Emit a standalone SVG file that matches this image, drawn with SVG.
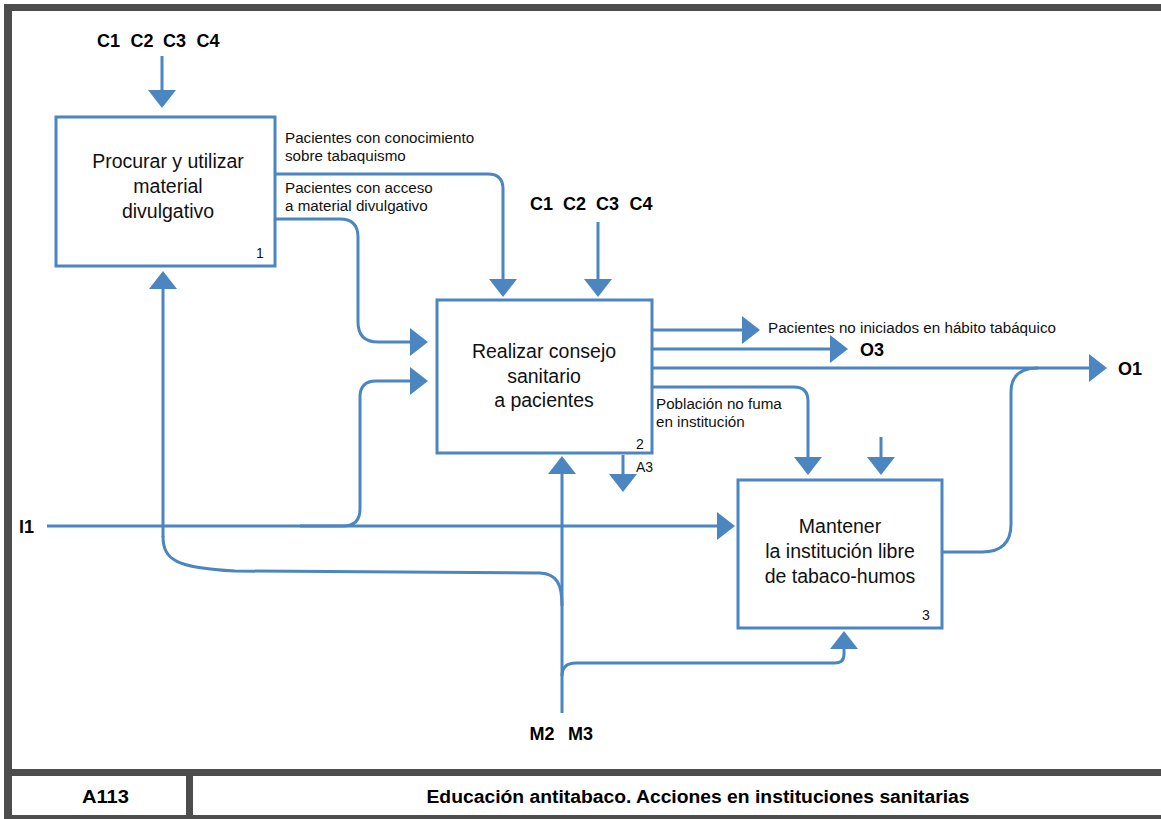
<svg xmlns="http://www.w3.org/2000/svg" width="1161" height="819" viewBox="0 0 1161 819">
<style>
.frame{fill:#4d4d4d}
.box{fill:#fff;stroke:#4b86c1;stroke-width:3}
.ln{fill:none;stroke:#4b86c1;stroke-width:3}
.t{font-family:"Liberation Sans",Arial,sans-serif;fill:#111}
.bt{font-size:19.5px;text-anchor:middle}
.lbl{font-size:15.2px}
.num{font-size:14px}
.b{font-size:18px;font-weight:bold;fill:#000}
.ft{font-size:18px;font-weight:bold;text-anchor:middle;fill:#000}
</style>
<defs>
<marker id="ah" markerUnits="userSpaceOnUse" viewBox="0 0 18 28" markerWidth="18" markerHeight="28" refX="8" refY="14" orient="auto">
<path d="M0,0 L18,14 L0,28 Z" fill="#4b86c1"/>
</marker>
</defs>
<rect width="1161" height="819" fill="#fff"/>
<g id="frame">
<rect class="frame" x="4" y="4" width="1157" height="7"/>
<rect class="frame" x="4" y="4" width="8" height="815"/>
<rect class="frame" x="4" y="769" width="1157" height="7"/>
<rect class="frame" x="186" y="776" width="7" height="40"/>
<rect class="frame" x="4" y="815" width="1157" height="4"/>
<text class="t ft" x="105.5" y="803" textLength="47" lengthAdjust="spacingAndGlyphs">A113</text>
<text class="t ft" x="698" y="803" textLength="543" lengthAdjust="spacingAndGlyphs">Educación antitabaco. Acciones en instituciones sanitarias</text>
</g>
<g id="connectors">
<path class="ln" marker-end="url(#ah)" d="M162,56 V98"/>
<path class="ln" marker-end="url(#ah)" d="M275,174 H488 Q503,174 503,189 V287"/>
<path class="ln" marker-end="url(#ah)" d="M275,219 H340 Q358,219 358,237 V322 Q358,342 378,342 H418"/>
<path class="ln" marker-end="url(#ah)" d="M598,222 V287"/>
<path class="ln" marker-end="url(#ah)" d="M47,526 H725"/>
<path class="ln" marker-end="url(#ah)" d="M300,526 H343 Q360,526 360,509 V397 Q360,381 376,381 H418"/>
<path class="ln" d="M163,536 C163,560 176,568 235,571 L540,573 C557,574 562,584 562,606"/>
<path class="ln" marker-end="url(#ah)" d="M163,537 V281"/>
<path class="ln" marker-end="url(#ah)" d="M562,713 V466"/>
<path class="ln" marker-end="url(#ah)" d="M562,676 Q562,663 576,663 H835 Q844,663 844,654 V641"/>
<path class="ln" marker-end="url(#ah)" d="M652,330 H750"/>
<path class="ln" marker-end="url(#ah)" d="M652,349 H838"/>
<path class="ln" marker-end="url(#ah)" d="M652,368 H1097"/>
<path class="ln" marker-end="url(#ah)" d="M652,387 H794 Q808,387 808,401 V465"/>
<path class="ln" marker-end="url(#ah)" d="M623,455 V482"/>
<path class="ln" marker-end="url(#ah)" d="M881,437 V465"/>
<path class="ln" d="M942,552 H982 Q1011,552 1011,524 V392 Q1011,368 1038,368"/>
<text class="t lbl" x="285" y="143">Pacientes con conocimiento</text>
<text class="t lbl" x="285" y="161">sobre tabaquismo</text>
<text class="t lbl" x="285" y="193">Pacientes con acceso</text>
<text class="t lbl" x="285" y="211">a material divulgativo</text>
<text class="t lbl" x="768" y="333">Pacientes no iniciados en hábito tabáquico</text>
<text class="t b" x="860" y="356">O3</text>
<text class="t b" x="1118" y="375">O1</text>
<text class="t lbl" x="656" y="409">Población no fuma</text>
<text class="t lbl" x="656" y="427">en institución</text>
<text class="t num" x="636" y="472">A3</text>
<text class="t b" x="19" y="533">I1</text>
<text class="t b" x="108.5" y="47" text-anchor="middle">C1</text>
<text class="t b" x="142" y="47" text-anchor="middle">C2</text>
<text class="t b" x="174.5" y="47" text-anchor="middle">C3</text>
<text class="t b" x="208" y="47" text-anchor="middle">C4</text>
<text class="t b" x="541.5" y="210" text-anchor="middle">C1</text>
<text class="t b" x="574.5" y="210" text-anchor="middle">C2</text>
<text class="t b" x="607.5" y="210" text-anchor="middle">C3</text>
<text class="t b" x="641" y="210" text-anchor="middle">C4</text>
<text class="t b" x="542" y="740" text-anchor="middle">M2</text>
<text class="t b" x="580.5" y="740" text-anchor="middle">M3</text>
</g>
<g id="node1">
<rect class="box" x="56" y="117" width="219" height="149"/>
<text class="t bt" x="168" y="168">Procurar y utilizar</text>
<text class="t bt" x="168" y="193">material</text>
<text class="t bt" x="168" y="218">divulgativo</text>
<text class="t num" x="256" y="258">1</text>
</g>
<g id="node2">
<rect class="box" x="437" y="300" width="215" height="153"/>
<text class="t bt" x="544" y="358">Realizar consejo</text>
<text class="t bt" x="544" y="383">sanitario</text>
<text class="t bt" x="544" y="407">a pacientes</text>
<text class="t num" x="636" y="449">2</text>
</g>
<g id="node3">
<rect class="box" x="738" y="480" width="204" height="148"/>
<text class="t bt" x="840" y="533">Mantener</text>
<text class="t bt" x="840" y="558">la institución libre</text>
<text class="t bt" x="840" y="583">de tabaco-humos</text>
<text class="t num" x="922" y="620">3</text>
</g>
</svg>
